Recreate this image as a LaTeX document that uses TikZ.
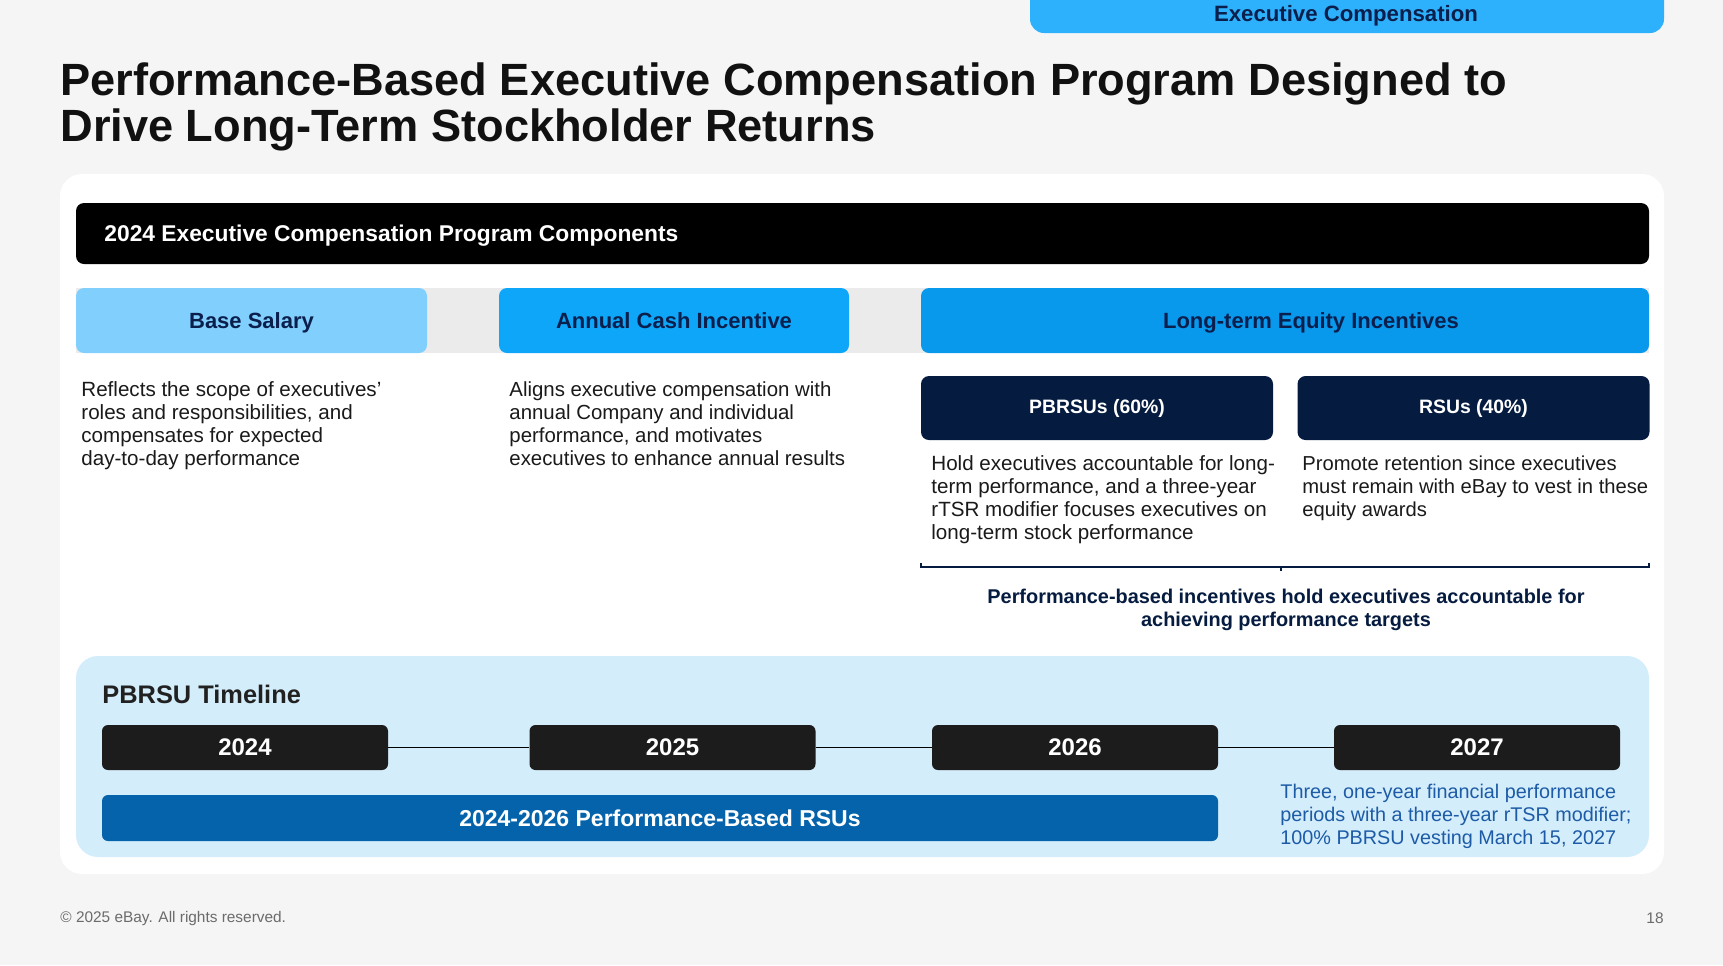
\documentclass[tikz,border=0pt]{standalone}
\usepackage{fontspec}
\setmainfont{Liberation Sans}
\definecolor{bgc}{HTML}{F5F5F5}
\definecolor{tabc}{HTML}{2EB1FD}
\definecolor{navy}{HTML}{0B1F4D}
\definecolor{titlec}{HTML}{111111}
\definecolor{bandc}{HTML}{EBEBEB}
\definecolor{basec}{HTML}{80CFFD}
\definecolor{annc}{HTML}{0DA6F9}
\definecolor{longc}{HTML}{0898EC}
\definecolor{descc}{HTML}{1A1A1A}
\definecolor{subc}{HTML}{051B3F}
\definecolor{panelc}{HTML}{D3EDFB}
\definecolor{yearc}{HTML}{1C1C1C}
\definecolor{barc}{HTML}{0563AB}
\definecolor{notec}{HTML}{1D5BA6}
\definecolor{footc}{HTML}{6B6B6B}
\tikzset{
  hdrbox/.style={rounded corners=4pt},
  hdrtext/.style={font=\fontsize{11}{13}\selectfont\bfseries, text=navy, inner sep=0pt, anchor=base},
  desc/.style={font=\fontsize{10.3}{11.5}\selectfont, text=descc, align=left, anchor=north west, inner sep=0pt},
  subbox/.style={fill=subc, rounded corners=4pt, text=white, font=\fontsize{9.7}{11}\selectfont\bfseries, minimum width=176pt, minimum height=32pt, inner sep=0pt},
  yearbox/.style={fill=yearc, rounded corners=3pt, text=white, font=\fontsize{12}{13}\selectfont\bfseries, minimum width=143pt, minimum height=22.5pt, inner sep=0pt},
  yearlink/.style={draw=black, line width=0.85pt},
}
\begin{document}
\begin{tikzpicture}[x=0.5pt,y=-0.5pt]
\useasboundingbox (0,0) rectangle (1723,965);
\fill[bgc] (0,0) rectangle (1723,965);
% top tab
\fill[tabc, rounded corners=7pt] (1030,-30) rectangle (1664,33);
\node[font=\fontsize{11.1}{13}\selectfont\bfseries, text=navy, inner sep=0pt] (tab) at (1346,16) {Executive Compensation};
% title
\node[anchor=north west, inner sep=0pt, align=left, text=titlec,
  font=\fontsize{22.6}{23.2}\selectfont\bfseries] (title) at (60,62)
  {Performance-Based Executive Compensation Program Designed to\\Drive Long-Term Stockholder Returns};
% card
\fill[white, rounded corners=11pt] (60,174) rectangle (1664,874);
% black bar
\fill[black, rounded corners=4pt] (76,203) rectangle (1649,264);
\node[anchor=west, inner sep=0pt, text=white, font=\fontsize{11.4}{13}\selectfont\bfseries] (bartitle) at (104,236) {2024 Executive Compensation Program Components};
% header band
\fill[bandc] (76,288) rectangle (1649,353);
\fill[basec, hdrbox] (76,288) rectangle (427,353);
\fill[annc, hdrbox] (499,288) rectangle (849,353);
\fill[longc, hdrbox] (921,288) rectangle (1649,353);
\node[hdrtext] (base) at (251.5,328) {Base Salary};
\node[hdrtext] (annual) at (674,328) {Annual Cash Incentive};
\node[hdrtext] (long) at (1311,328) {Long-term Equity Incentives};
% descriptions
\node[desc] (basedesc) at (81,381) {Reflects the scope of executives’\\roles and responsibilities, and\\compensates for expected\\day-to-day performance};
\node[desc, font=\fontsize{10.2}{11.5}\selectfont] (anndesc) at (509,381) {Aligns executive compensation with\\annual Company and individual\\performance, and motivates\\executives to enhance annual results};
% sub boxes
\node[subbox] (pbrsu) at (1097,408) {PBRSUs (60\%)};
\node[subbox] (rsu) at (1473.5,408) {RSUs (40\%)};
\node[desc] (pbdesc) at (931,455) {Hold executives accountable for long-\\term performance, and a three-year\\rTSR modifier focuses executives on\\long-term stock performance};
\node[desc, font=\fontsize{10.1}{11.5}\selectfont] (rsudesc) at (1302,455) {Promote retention since executives\\must remain with eBay to vest in these\\equity awards};
% bracket
\coordinate (bl) at (921,563);
\coordinate (br) at (1649,563);
\coordinate (bm) at (1281,567);
\coordinate (bt) at (1281,571);
\draw[subc, line width=0.8pt] (bl) -- (921,567) -- (1649,567) -- (br);
\draw[subc, line width=0.8pt] (bm) -- (bt);
\node[font=\fontsize{9.95}{11.6}\selectfont\bfseries, text=subc, align=center, inner sep=0pt] (brtext) at (1286,609.5) {Performance-based incentives hold executives accountable for\\achieving performance targets};
% timeline panel
\fill[panelc, rounded corners=11pt] (76,656) rectangle (1649,857);
\node[anchor=west, inner sep=0pt, text=black!87, font=\fontsize{12.7}{15}\selectfont\bfseries] (tltitle) at (102,694) {PBRSU Timeline};
\node[yearbox] (y2024) at (245,747.5) {2024};
\node[yearbox] (y2025) at (672.5,747.5) {2025};
\node[yearbox] (y2026) at (1075,747.5) {2026};
\node[yearbox] (y2027) at (1477,747.5) {2027};
\draw[yearlink] (y2024.east) -- (y2025.west);
\draw[yearlink] (y2025.east) -- (y2026.west);
\draw[yearlink] (y2026.east) -- (y2027.west);
\node[fill=barc, rounded corners=3pt, text=white, font=\fontsize{11.5}{13}\selectfont\bfseries, minimum width=558pt, minimum height=23pt, inner sep=0pt] (pbbar) at (660,818) {2024-2026 Performance-Based RSUs};
\node[desc, text=notec, font=\fontsize{9.9}{11.5}\selectfont] (note) at (1280,784) {Three, one-year financial performance\\periods with a three-year rTSR modifier;\\100\% PBRSU vesting March 15, 2027};
% footer
\node[anchor=west, inner sep=0pt, text=footc, font=\fontsize{7.7}{9}\selectfont] (copy) at (60,918) {© 2025 eBay. All rights reserved.};
\node[anchor=east, inner sep=0pt, text=footc, font=\fontsize{7.7}{9}\selectfont] (page) at (1664,918) {18};
\end{tikzpicture}
\end{document}
